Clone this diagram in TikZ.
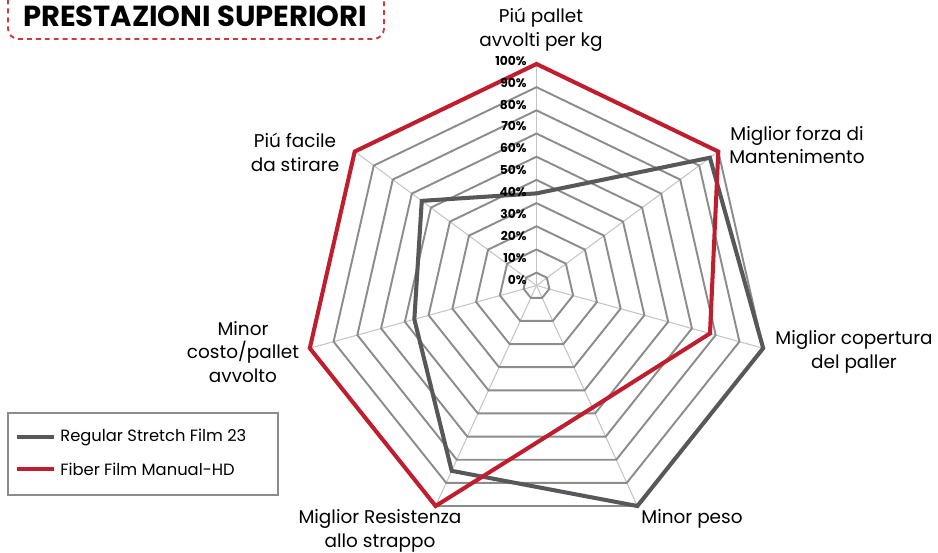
\documentclass[tikz,border=0pt]{standalone}
\usepackage{fontspec}
\setmainfont{Poppins}
\definecolor{fiber}{HTML}{BE1E2D}
\definecolor{regular}{HTML}{58585A}
\definecolor{ringgray}{HTML}{8C8C8C}
\definecolor{spokegray}{HTML}{C4C4C4}
\definecolor{dashred}{HTML}{D0383C}
\begin{document}
\begin{tikzpicture}[x=0.02cm,y=-0.02cm,
  ring/.style={draw=ringgray,line width=1.1pt},
  spoke/.style={draw=spokegray,line width=0.6pt},
  serie/.style={line width=2.3pt,line join=miter},
  axlabel/.style={align=center,font=\fontsize{10.5}{13.6}\selectfont},
  pct/.style={anchor=east,inner sep=0pt,font=\bfseries\fontsize{7}{8}\selectfont},
  legtext/.style={anchor=west,inner sep=3.4pt,font=\fontsize{9.3}{11}\selectfont},
  titlebox/.style={draw=dashred,line width=1.1pt,rounded corners=6pt,dash pattern=on 2.8pt off 2.3pt}]
\useasboundingbox (0,0) rectangle (938,553);
\coordinate (o) at (536.5,285.5);
\foreach \i in {0,...,6}
  \draw[spoke] (o) -- ({536.5+232.5*cos(90-\i*360/7)},{296.5-232.5*sin(90-\i*360/7)});
\foreach \k in {1,...,10}{
  \pgfmathsetmacro\rr{13.2+(\k-1)*24.37}
  \pgfmathsetmacro\cc{285.9+(\k-1)*1.18}
  \draw[ring] plot[samples at={0,...,6}] ({536.5+\rr*cos(90-\x*360/7)},{\cc-\rr*sin(90-\x*360/7)}) -- cycle;
}
\foreach \lv [count=\n from 0] in {4.42,9.56,10,10,8.48,5.6,6.48}
  \coordinate (reg-\n) at ({536.5+(13.2+(\lv-1)*24.37)*cos(90-\n*360/7)},{285.9+(\lv-1)*1.18-(13.2+(\lv-1)*24.37)*sin(90-\n*360/7)});
\foreach \lv [count=\n from 0] in {10,10,7.76,5.75,10,10,10}
  \coordinate (fib-\n) at ({536.5+(13.2+(\lv-1)*24.37)*cos(90-\n*360/7)},{285.9+(\lv-1)*1.18-(13.2+(\lv-1)*24.37)*sin(90-\n*360/7)});
\draw[serie,regular] (reg-0) -- (reg-1) -- (reg-2) -- (reg-3) -- (reg-4) -- (reg-5) -- (reg-6) -- cycle;
\draw[serie,fiber] (fib-0) -- (fib-1) -- (fib-2) -- (fib-3) -- (fib-4) -- (fib-5) -- (fib-6) -- cycle;
\foreach \p [count=\n from 0] in {0,10,...,100}
  \node[pct] (p\p) at (527,{280-\n*21.93}) {\p\%};
\node[axlabel] (ax1) at (541,30) {Piú pallet\\avvolti per kg};
\node[axlabel] (ax2) at (797,145) {Miglior forza di\\Mantenimento};
\node[axlabel] (ax3) at (854,352) {Miglior copertura\\del paller};
\node[axlabel] (ax4) at (692,519) {Minor peso};
\node[axlabel] (ax5) at (380,531) {Miglior Resistenza\\allo strappo};
\node[axlabel] (ax6) at (243,352) {Minor\\costo/pallet\\avvolto};
\node[axlabel] (ax7) at (295,152) {Piú facile\\da stirare};
\draw[titlebox] (8,-20) rectangle (384,39);
\node[font=\bfseries\fontsize{16.5}{20}\selectfont] (title) at (195,16) {PRESTAZIONI SUPERIORI};
\draw[draw=ringgray,line width=1.1pt] (8,413) rectangle (278,495);
\node[legtext] (leg1) at (54,437) {Regular Stretch Film 23};
\node[legtext] (leg2) at (54,469) {Fiber Film Manual-HD};
\coordinate (leg1a) at (17,437);
\coordinate (leg2a) at (17,469);
\draw[serie,regular,line width=2pt] (leg1a) -- (leg1.west);
\draw[serie,fiber,line width=2pt] (leg2a) -- (leg2.west);
\end{tikzpicture}
\end{document}
